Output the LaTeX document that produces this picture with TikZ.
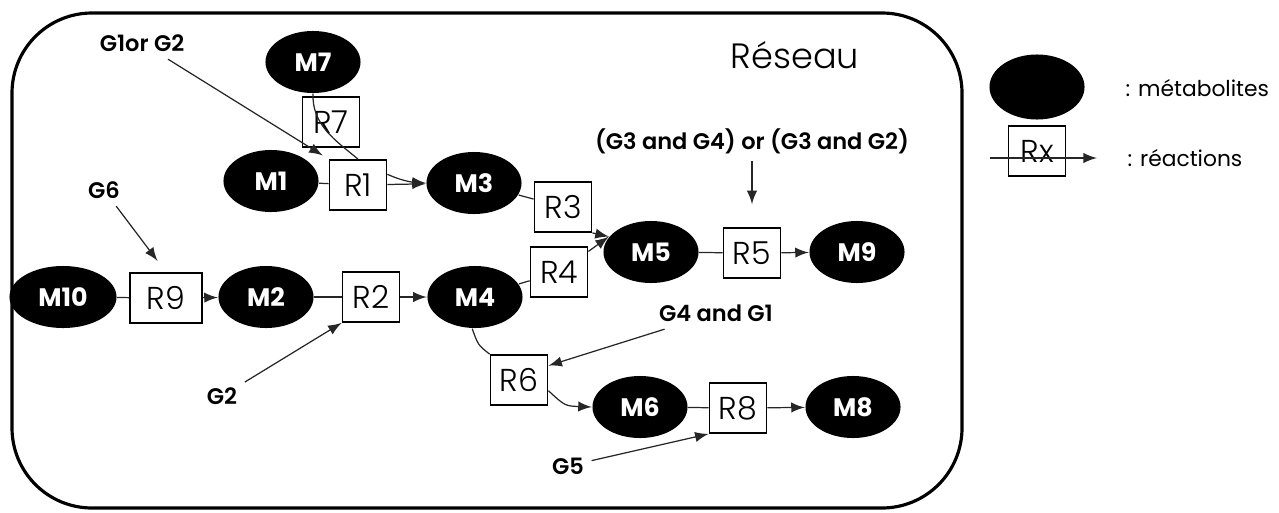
\documentclass[tikz,border=0pt]{standalone}
\usepackage{fontspec}
\setmainfont{Poppins}
\newfontfamily\lightfont{Poppins Light}
\newfontfamily\semifont{Poppins SemiBold}
\usetikzlibrary{shapes.geometric}

\tikzset{
  metab/.style={ellipse,fill=black,text=white,minimum width=0.95cm,minimum height=0.62cm,inner sep=0pt,font=\bfseries\fontsize{7.2}{7}\selectfont},
  reac/.style={draw,minimum width=0.57cm,minimum height=0.5cm,inner sep=0pt,line width=0.5pt,font=\lightfont\fontsize{9}{9}\selectfont},
  gene/.style={inner sep=2pt,font=\semifont\fontsize{6.4}{7}\selectfont},
  legend/.style={anchor=west,inner sep=0pt,font=\fontsize{6.2}{7}\selectfont},
  link/.style={draw=black!85,line width=0.35pt},
}

\begin{document}
\begin{tikzpicture}[x=0.01cm,y=-0.01cm]
  \useasboundingbox (0,0) rectangle (1279,512);
  \draw[line width=0.9pt,rounded corners=0.8cm] (12,13) rectangle (962,508);
  \node[font=\lightfont\fontsize{10}{11}\selectfont] (titre) at (795,55) {Réseau};

  % metabolites
  \node[metab] (M7) at (313,62) {M7};
  \node[metab] (M1) at (271,181) {M1};
  \node[metab] (M3) at (474,183) {M3};
  \node[metab] (M5) at (651,252) {M5};
  \node[metab] (M9) at (857,252) {M9};
  \node[metab,minimum width=1.07cm] (M10) at (63,297) {M10};
  \node[metab] (M2) at (266,297) {M2};
  \node[metab] (M4) at (475,297) {M4};
  \node[metab] (M6) at (640,407) {M6};
  \node[metab] (M8) at (853,407) {M8};

  % reactions
  \node[reac] (R7) at (331,122) {R7};
  \node[reac] (R1) at (358,185) {R1};
  \node[reac] (R3) at (563,207) {R3};
  \node[reac] (R4) at (559,272) {R4};
  \node[reac] (R5) at (752,253) {R5};
  \node[reac,minimum width=0.72cm] (R9) at (166,298) {R9\hspace{0.28cm}};
  \node[reac] (R2) at (371,297) {R2};
  \node[reac] (R6) at (519,380) {R6};
  \node[reac] (R8) at (738,408) {R8};

  \draw[link] (M7.south) .. controls (312,125) and (335,140) .. (R1.north);
  \draw[link,-latex] (R1.20) .. controls (400,180) and (410,182) .. (M3.west);
  \draw[link] (M1) -- (R1);
  \draw[link,-latex] (R1) -- (M3);
  \draw[link] (M3) -- (R3);
  \draw[link,-latex] (R3.south east) -- (M5.160);
  \draw[link] (M4) -- (R4);
  \draw[link,-latex] (R4.35) -- (M5.160);
  \draw[link] (M5) -- (R5);
  \draw[link,-latex] (R5) -- (M9);
  \draw[link] (M10) -- (R9);
  \draw[link,-latex] (R9) -- (M2);
  \draw[link] (M2) -- (R2);
  \draw[link,-latex] (R2) -- (M4);
  \draw[link] (M4.265) .. controls (478,345) .. (R6.north west);
  \draw[link,-latex] (R6.-20) .. controls (565,406) .. (M6.west);
  \draw[link] (M6) -- (R8);
  \draw[link,-latex] (R8) -- (M8);

  % genes
  \node[gene] (g12) at (142,43) {G1or G2};
  \node[gene] (g6) at (104,190) {G6};
  \node[gene] (g2) at (222,396) {G2};
  \node[gene] (g34) at (752,141) {(G3 and G4) or (G3 and G2)};
  \node[gene] (g41) at (716,313) {G4 and G1};
  \node[gene] (g5) at (568,466) {G5};
  \draw[link,-latex,shorten >=2pt] (g12) -- (R1.north west);
  \draw[link,-latex,shorten >=4pt] (g6) -- (R9.north);
  \draw[link,-latex] (g2) -- (R2.south west);
  \draw[link,-latex,shorten >=6.5pt] (g34) -- (R5.north);
  \draw[link,-latex] (g41) -- (R6.26);
  \draw[link,-latex] (g5) -- (R8.south west);

  % legende
  \node[metab,minimum height=0.65cm] (lm) at (1037,87) {};
  \node[legend] (lmt) at (1125,88) {: métabolites};
  \node[reac] (lr) at (1037,151) {Rx};
  \coordinate (la) at (990,158);
  \coordinate (lb) at (1097,158);
  \draw[link,-latex] (la) -- (lb);
  \node[legend] (lrt) at (1127,158) {: réactions};
\end{tikzpicture}
\end{document}
